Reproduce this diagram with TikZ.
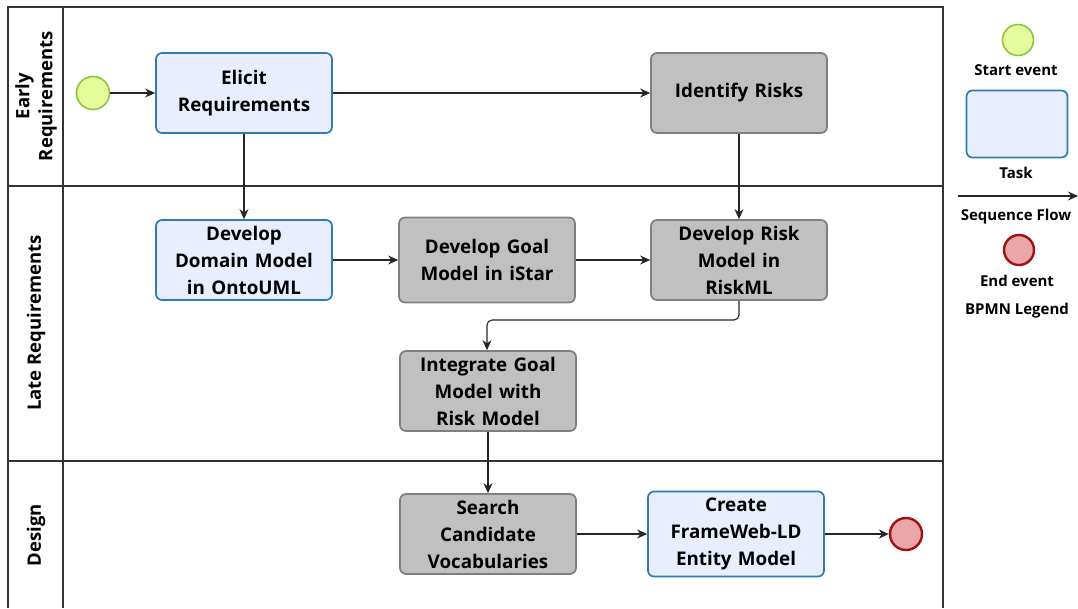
\documentclass[tikz,border=0pt]{standalone}
\usepackage{fontspec}
\setmainfont{Open Sans}
\usetikzlibrary{arrows.meta}
\usetikzlibrary{positioning}

\definecolor{taskfill}{HTML}{E8EEFD}
\definecolor{taskline}{HTML}{2F7DB0}
\definecolor{grayfill}{HTML}{C0C0C0}
\definecolor{grayline}{HTML}{7F7F7F}
\definecolor{startfill}{HTML}{E6FC9C}
\definecolor{startline}{HTML}{8CC63F}
\definecolor{endfill}{HTML}{EBA6AA}
\definecolor{endline}{HTML}{A01010}
\definecolor{poolline}{HTML}{333333}

\begin{document}
\begin{tikzpicture}[x=1pt,y=-1pt,
    bluetask/.style={draw=taskline,fill=taskfill,line width=1.7pt,rounded corners=6pt,
        minimum width=176pt,minimum height=80pt,text width=172pt,align=center,inner sep=1pt,
        font=\fontsize{18.8}{27}\selectfont\bfseries},
    graytask/.style={bluetask,draw=grayline,fill=grayfill},
    startev/.style={circle,draw=startline,fill=startfill,line width=1.6pt,minimum size=33pt,inner sep=0pt},
    endev/.style={circle,draw=endline,fill=endfill,line width=2.4pt,minimum size=32pt,inner sep=0pt},
    flow/.style={-{Stealth[length=10pt,width=9pt]},line width=1.1pt,black!85},
    lanelabel/.style={rotate=90,align=center,font=\fontsize{18.5}{23}\selectfont\bfseries},
    legendtext/.style={font=\fontsize{15}{17}\selectfont\bfseries}]

        \useasboundingbox (0,0) rectangle (1078,608);

        % pool and lanes
        \draw[poolline,line width=1.3pt] (8,608) -- (8,7) -- (943,7) -- (943,608);
        \draw[poolline,line width=1.3pt] (63,7) -- (63,608);
        \draw[poolline,line width=1.3pt] (8,186) -- (943,186);
        \draw[poolline,line width=1.3pt] (8,461) -- (943,461);

        \node[lanelabel] (early) at (36,96) {Early\\Requirements};
        \node[lanelabel] (late) at (36,323) {Late Requirements};
        \node[lanelabel] (design) at (36,535) {Design};

        % tasks
        \node[startev] (start) at (93,93) {};
        \node[bluetask] (elicit) at (244,93) {Elicit\\Requirements};
        \node[graytask] (identify) at (739,93) {Identify Risks};
        \node[bluetask] (domain) at (244,260) {Develop\\Domain Model\\in OntoUML};
        \node[graytask,minimum height=85pt] (goal) at (487,260) {Develop Goal\\Model in iStar};
        \node[graytask] (risk) at (739,260) {Develop Risk\\Model in\\RiskML};
        \node[graytask] (integrate) at (488,391) {Integrate Goal\\Model with\\Risk Model};
        \node[graytask] (search) at (488,534) {Search\\Candidate\\Vocabularies};
        \node[bluetask,minimum height=85pt] (create) at (736,534) {Create\\FrameWeb-LD\\Entity Model};
        \node[endev] (end) at (906,534) {};

        % sequence flows
        \draw[flow] (start) -- (elicit);
        \draw[flow] (elicit) -- (identify);
        \draw[flow] (elicit) -- (domain);
        \draw[flow] (identify) -- (risk);
        \draw[flow] (domain) -- (goal);
        \draw[flow] (goal) -- (risk);
        \draw[flow,rounded corners=5pt] (risk.south) |- (487,320) -- (integrate.north -| 487,0);
        \draw[flow] (integrate) -- (search);
        \draw[flow] (search) -- (create);
        \draw[flow] (create) -- (end);

        % legend
        \node[startev,minimum size=31pt] (lstart) at (1018,40) {};
        \node[legendtext] (lstarttxt) at (1016,70) {Start event};
        \node[bluetask,minimum width=101pt,minimum height=67pt,text width=90pt] (ltask) at (1017,124) {};
        \node[legendtext] (ltasktxt) at (1016,173) {Task};
        \coordinate (lfrom) at (958,196);
        \coordinate (lto) at (1078,196);
        \draw[flow] (lfrom) -- (lto);
        \node[legendtext] (lflowtxt) at (1016,217) {Sequence Flow};
        \node[endev,minimum size=30pt] (lend) at (1019,250) {};
        \node[legendtext] (lendtxt) at (1017,281) {End event};
        \node[legendtext] (lbpmn) at (1017,311) {BPMN Legend};

    \end{tikzpicture}
\end{document}
